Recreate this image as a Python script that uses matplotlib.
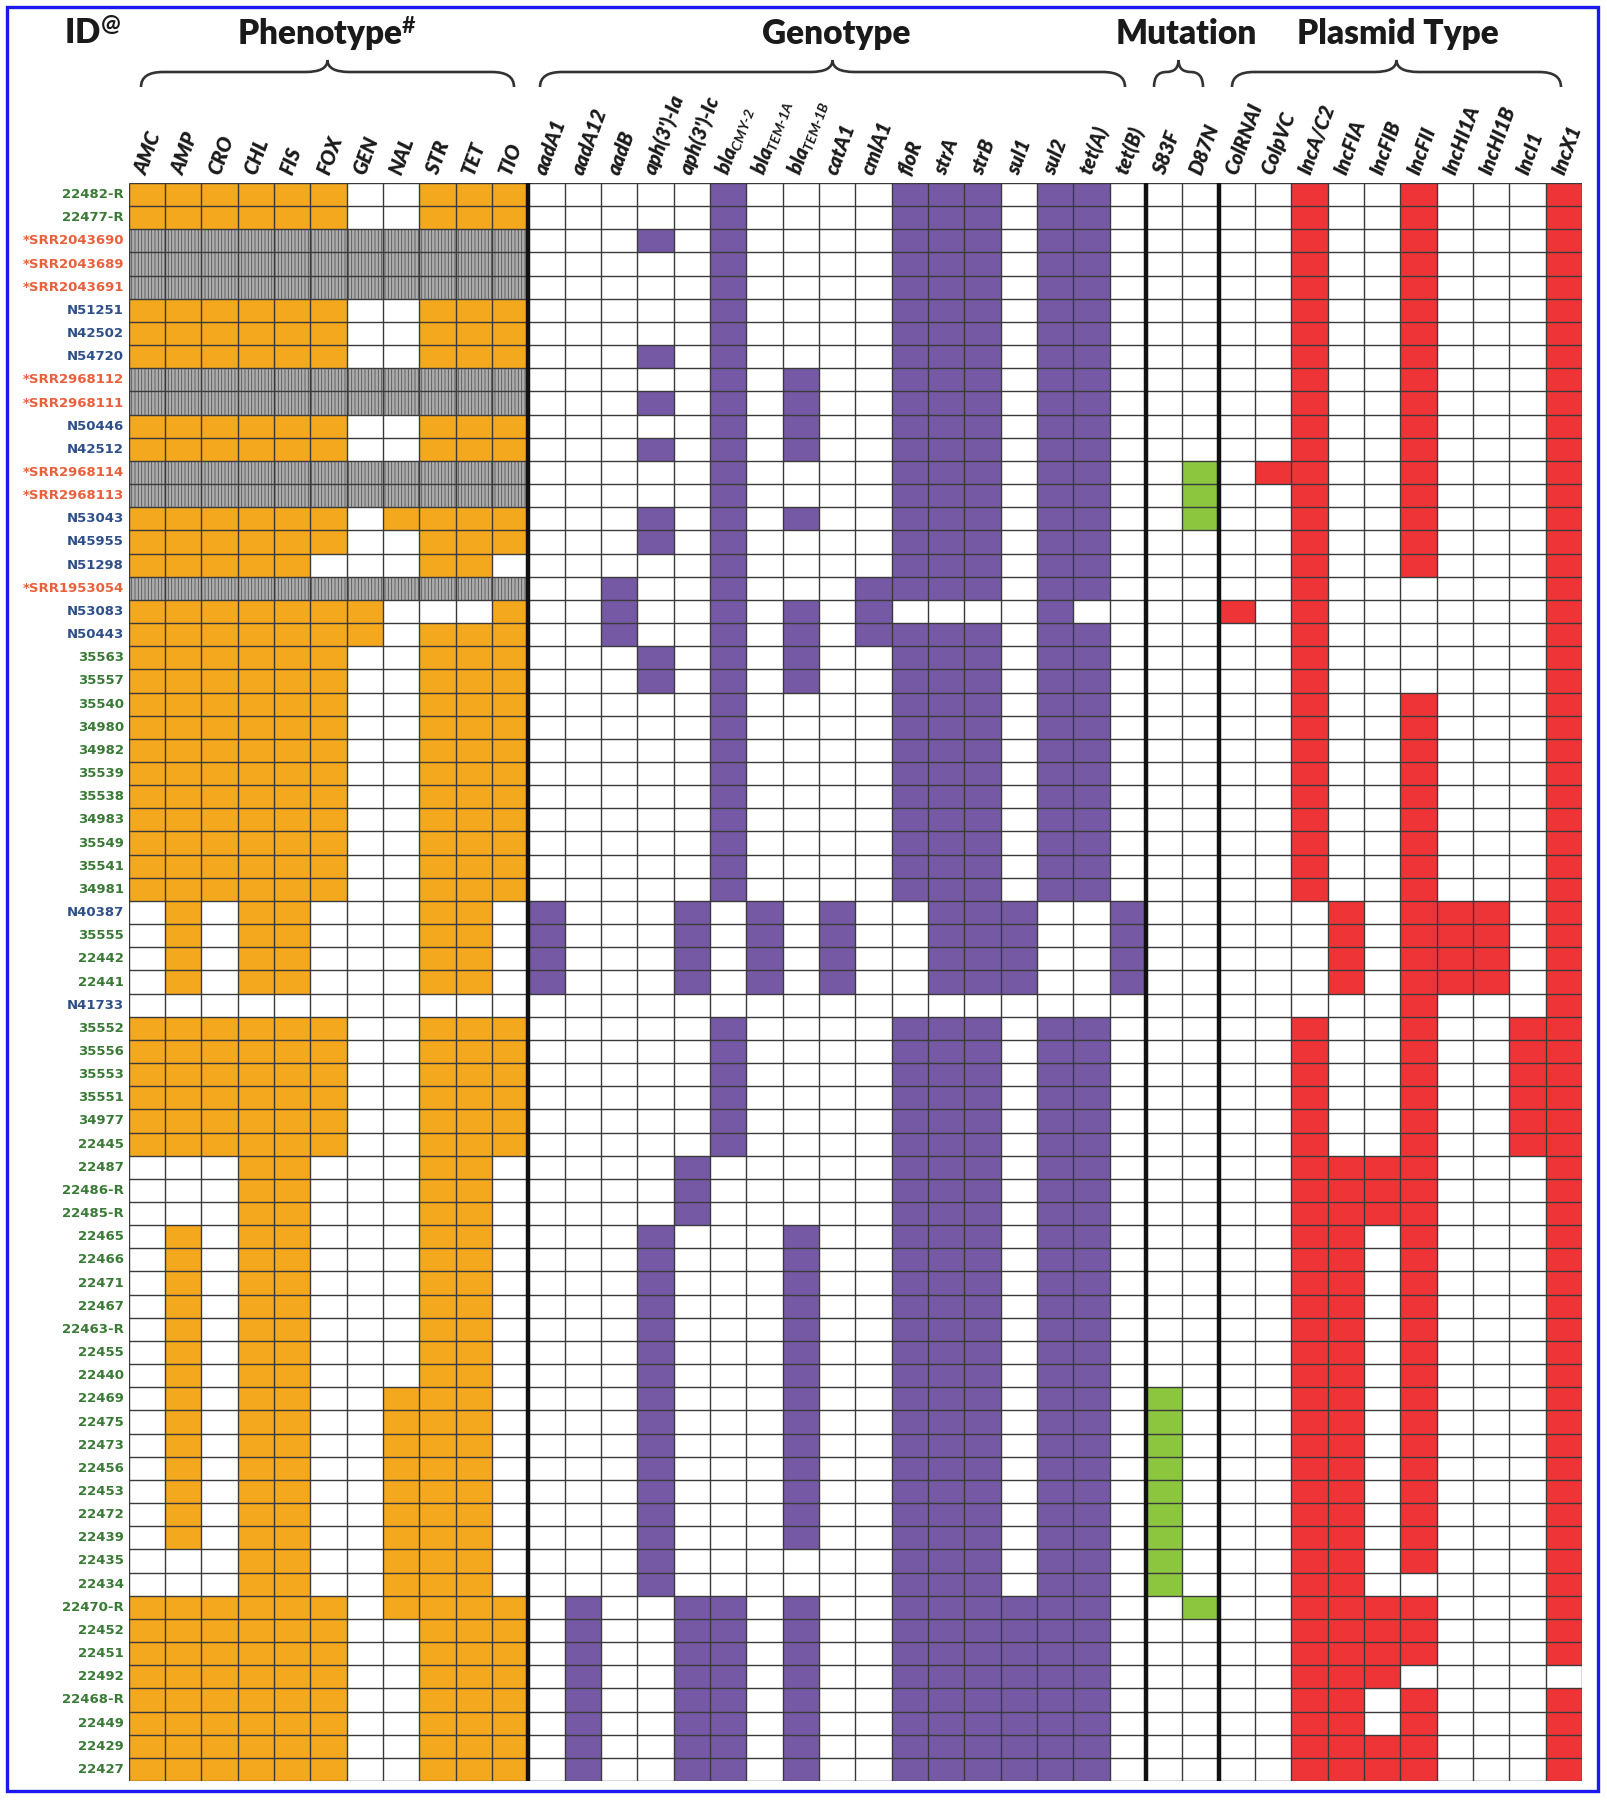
import matplotlib.pyplot as plt
from matplotlib.patches import Rectangle, PathPatch
from matplotlib.path import Path

plt.rcParams['mathtext.fontset'] = 'custom'
plt.rcParams['mathtext.rm'] = 'Lato:bold:italic'
plt.rcParams['mathtext.it'] = 'Lato:bold:italic'
plt.rcParams['mathtext.bf'] = 'Lato:bold'
plt.rcParams['hatch.linewidth'] = 0.6

# isolate IDs, top to bottom (* = public SRA genomes, N = NARMS, others = lab)
isolates = ['22482-R', '22477-R', '*SRR2043690', '*SRR2043689', '*SRR2043691', 'N51251', 'N42502', 'N54720',
            '*SRR2968112', '*SRR2968111', 'N50446', 'N42512', '*SRR2968114', '*SRR2968113', 'N53043', 'N45955',
            'N51298', '*SRR1953054', 'N53083', 'N50443', '35563', '35557', '35540', '34980', '34982', '35539',
            '35538', '34983', '35549', '35541', '34981', 'N40387', '35555', '22442', '22441', 'N41733', '35552',
            '35556', '35553', '35551', '34977', '22445', '22487', '22486-R', '22485-R', '22465', '22466', '22471',
            '22467', '22463-R', '22455', '22440', '22469', '22475', '22473', '22456', '22453', '22472', '22439',
            '22435', '22434', '22470-R', '22452', '22451', '22492', '22468-R', '22449', '22429', '22427']

pheno_cols = ['AMC', 'AMP', 'CRO', 'CHL', 'FIS', 'FOX', 'GEN', 'NAL', 'STR', 'TET', 'TIO']
geno_cols = ['aadA1', 'aadA12', 'aadB', "aph(3')-Ia", "aph(3')-Ic", 'bla$_{CMY\u20102}$', 'bla$_{TEM\u20101A}$',
             'bla$_{TEM\u20101B}$', 'catA1', 'cmlA1', 'floR', 'strA', 'strB', 'sul1', 'sul2', 'tet(A)', 'tet(B)']
mut_cols = ['S83F', 'D87N']
plasmid_cols = ['ColRNAI', 'ColpVC', 'IncA/C2', 'IncFIA', 'IncFIB', 'IncFII', 'IncHI1A', 'IncHI1B', 'IncI1', 'IncX1']

# 1 = resistant / present, 0 = absent, X = not tested
phenotype = ['11111100111', '11111100111', 'XXXXXXXXXXX', 'XXXXXXXXXXX', 'XXXXXXXXXXX', '11111100111',
             '11111100111', '11111100111', 'XXXXXXXXXXX', 'XXXXXXXXXXX', '11111100111', '11111100111',
             'XXXXXXXXXXX', 'XXXXXXXXXXX', '11111101111', '11111100111', '11111000110', 'XXXXXXXXXXX',
             '11111110001', '11111110111', '11111100111', '11111100111', '11111100111', '11111100111',
             '11111100111', '11111100111', '11111100111', '11111100111', '11111100111', '11111100111',
             '11111100111', '01011000110', '01011000110', '01011000110', '01011000110', '00000000000',
             '11111100111', '11111100111', '11111100111', '11111100111', '11111100111', '11111100111',
             '00011000110', '00011000110', '00011000110', '01011000110', '01011000110', '01011000110',
             '01011000110', '01011000110', '01011000110', '01011000110', '01011001110', '01011001110',
             '01011001110', '01011001110', '01011001110', '01011001110', '01011001110', '00011001110',
             '00011001110', '11111101111', '11111100111', '11111100111', '11111100111', '11111100111',
             '11111100111', '11111100111', '11111100111']

genotype = ['00000100001110110', '00000100001110110', '00010100001110110', '00000100001110110',
            '00000100001110110', '00000100001110110', '00000100001110110', '00010100001110110',
            '00000101001110110', '00010101001110110', '00000101001110110', '00010101001110110',
            '00000100001110110', '00000100001110110', '00010101001110110', '00010100001110110',
            '00000100001110110', '00100100011110110', '00100101010000100', '00100101011110110',
            '00010101001110110', '00010101001110110', '00000100001110110', '00000100001110110',
            '00000100001110110', '00000100001110110', '00000100001110110', '00000100001110110',
            '00000100001110110', '00000100001110110', '00000100001110110', '10001010100111001',
            '10001010100111001', '10001010100111001', '10001010100111001', '00000000000000000',
            '00000100001110110', '00000100001110110', '00000100001110110', '00000100001110110',
            '00000100001110110', '00000100001110110', '00001000001110110', '00001000001110110',
            '00001000001110110', '00010001001110110', '00010001001110110', '00010001001110110',
            '00010001001110110', '00010001001110110', '00010001001110110', '00010001001110110',
            '00010001001110110', '00010001001110110', '00010001001110110', '00010001001110110',
            '00010001001110110', '00010001001110110', '00010001001110110', '00010000001110110',
            '00010000001110110', '01001101001111110', '01001101001111110', '01001101001111110',
            '01001101001111110', '01001101001111110', '01001101001111110', '01001101001111110',
            '01001101001111110']

mutation = ['00'] * 12 + ['01', '01', '01'] + ['00'] * 37 + ['10'] * 9 + ['01'] + ['00'] * 7

plasmid = ['0010010001'] * 12 + ['0110010001'] + ['0010010001'] * 4 + ['0010000001', '1010000001'] + \
          ['0010000001'] * 3 + ['0010010001'] * 9 + ['0001011101'] * 4 + ['0000010001'] + \
          ['0010010011'] * 6 + ['0011110001'] * 3 + ['0011010001'] * 15 + ['0011000001'] + \
          ['0011110001'] * 3 + ['0011100000'] + ['0011010001'] * 2 + ['0011110001'] * 2

groups = [('ID$^{\\mathbf{@}}$', None, None, 92),
          ('Phenotype$^{\\mathbf{\\#}}$', phenotype, pheno_cols, 327),
          ('Genotype', genotype, geno_cols, 836),
          ('Mutation', mutation, mut_cols, 1186),
          ('Plasmid Type', plasmid, plasmid_cols, 1398)]
fills = ['#F4A81D', '#7559A5', '#8CC63F', '#EF3438']
braces = [(141, 514), (540, 1125), (1154, 1203), (1232, 1561)]

fig = plt.figure(figsize=(16.07, 18), dpi=100)

# pixel-space layer for titles, braces and frame
bg = fig.add_axes([0, 0, 1, 1])
bg.set_xlim(0, 1607)
bg.set_ylim(1800, 0)
bg.axis('off')
bg.patch.set_alpha(0)
bg.add_patch(Rectangle((7, 7), 1591, 1784, fill=False, ec='#1a1aef', lw=2.4))

for title, _, _, xc in groups:
    bg.text(xc, 34, title, ha='center', va='center', fontsize=24, fontweight='heavy',
            family='Lato', color='#1a1a1a')


def brace(x0, x1, yt=60, ym=72, yb=87):
    xc = (x0 + x1) / 2
    r = min(22, (x1 - x0) / 4)
    verts = [(x0, yb), (x0, ym), (x0 + r, ym), (xc - r, ym), (xc, ym), (xc, yt),
             (xc, ym), (xc + r, ym), (x1 - r, ym), (x1, ym), (x1, yb)]
    codes = [Path.MOVETO, Path.CURVE3, Path.CURVE3, Path.LINETO, Path.CURVE3, Path.CURVE3,
             Path.CURVE3, Path.CURVE3, Path.LINETO, Path.CURVE3, Path.CURVE3]
    bg.add_patch(PathPatch(Path(verts, codes), fill=False, ec='#333333', lw=1.9))


for x0, x1 in braces:
    brace(x0, x1)

# the grid itself
ncol = len(pheno_cols) + len(geno_cols) + len(mut_cols) + len(plasmid_cols)
nrow = len(isolates)
left, right, top, bottom = 128.6, 1582, 183, 1781
ax = fig.add_axes([left / 1607, 1 - bottom / 1800, (right - left) / 1607, (bottom - top) / 1800])
ax.set_xlim(0, ncol)
ax.set_ylim(nrow, 0)
ax.axis('off')

x0 = 0
seps = []
for (_, rows, cols, _), color in zip(groups[1:], fills):
    for i, s in enumerate(rows):
        for j, v in enumerate(s):
            if v == '1':
                ax.add_patch(Rectangle((x0 + j, i), 1, 1, fc=color, lw=0))
            elif v == 'X':
                ax.add_patch(Rectangle((x0 + j, i), 1, 1, fc='#adadad', ec='#555555', lw=0, hatch='|||||'))
    for j, c in enumerate(cols):
        ax.text(x0 + j + 0.35, -0.4, c, rotation=70, rotation_mode='anchor', ha='left', va='center',
                fontsize=14.5, fontweight='heavy', fontstyle='italic', family='Lato', color='#1a1a1a')
    x0 += len(cols)
    seps.append(x0)

ax.hlines(range(nrow + 1), 0, ncol, color='#3a3a3a', lw=1.0)
ax.vlines(range(ncol + 1), 0, nrow, color='#3a3a3a', lw=1.0)
ax.vlines(seps[:-1], -0.25, nrow, color='#111111', lw=3.2)

for i, name in enumerate(isolates):
    if name.startswith('*'):
        c = '#E8603C'
    elif name.startswith('N'):
        c = '#2F4F8A'
    else:
        c = '#3A7A36'
    ax.text(-0.13, i + 0.5, name, ha='right', va='center', fontsize=9.5, fontweight='bold',
            family='DejaVu Sans', color=c)

fig.savefig('out.png', dpi=100)
